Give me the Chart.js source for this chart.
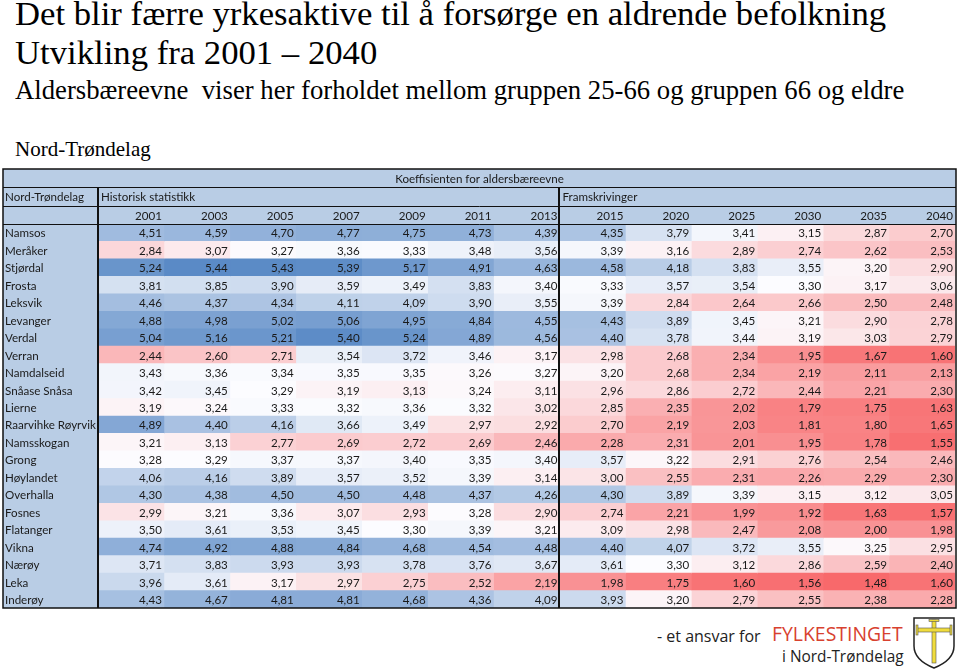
<!DOCTYPE html>
<html>
<head>
<meta charset="utf-8">
<script src="https://cdn.jsdelivr.net/npm/chart.js@4"></script>
<style>
body { margin: 0; width: 960px; height: 670px; background: #fff; position: relative; overflow: hidden; }
.t { position: absolute; left: 15px; white-space: nowrap; line-height: 1; color: #000; font-family: "Liberation Serif", serif; }
#wrap { position: absolute; left: 0; top: 160px; width: 960px; height: 460px; }
.logo { position: absolute; white-space: nowrap; line-height: 1; font-family: "Open Sans", sans-serif; }
</style>
</head>
<body>
<div class="t" style="top:-3px;font-size:34.7px">Det blir færre yrkesaktive til å forsørge en aldrende befolkning</div>
<div class="t" style="top:36px;font-size:34.7px">Utvikling fra 2001 – 2040</div>
<div class="t" style="top:77px;font-size:26.7px">Aldersbæreevne&nbsp; viser her forholdet mellom gruppen 25-66 og gruppen 66 og eldre</div>
<div class="t" style="top:139px;font-size:21px">Nord-Trøndelag</div>

<div id="wrap"><canvas id="chart"></canvas></div>

<div class="logo" style="left:657px;top:628px;font-size:16px;color:#222">- et ansvar for</div>
<div class="logo" style="left:772px;top:624px;font-size:20px;color:#d8412f;transform:scaleX(0.97);transform-origin:0 0">FYLKESTINGET</div>
<div class="logo" style="left:782px;top:649px;font-size:15.4px;color:#222">i Nord-Trøndelag</div>
<svg style="position:absolute;left:0;top:0" width="960" height="670">
  <path d="M914,618 L954,618 L954,646 Q954,660 934,668 Q914,660 914,646 Z" fill="#fff" stroke="#222" stroke-width="1.5"/>
  <g fill="#f0dc3c" stroke="#555" stroke-width="0.6">
    <rect x="932" y="620" width="4" height="43"/>
    <rect x="917" y="628" width="34" height="4"/>
    <rect x="916" y="625" width="2" height="10"/>
    <rect x="950" y="625" width="2" height="10"/>
    <rect x="929" y="619.5" width="10" height="2"/>
  </g>
</svg>

<script>
const years = ["2001", "2003", "2005", "2007", "2009", "2011", "2013",
               "2015", "2020", "2025", "2030", "2035", "2040"];
const kommuner = ["Namsos", "Meråker", "Stjørdal", "Frosta", "Leksvik", "Levanger", "Verdal",
                  "Verran", "Namdalseid", "Snåase Snåsa", "Lierne", "Raarvihke Røyrvik", "Namsskogan",
                  "Grong", "Høylandet", "Overhalla", "Fosnes", "Flatanger", "Vikna", "Nærøy", "Leka", "Inderøy"];

const namsos     = [4.51, 4.59, 4.70, 4.77, 4.75, 4.73, 4.39, 4.35, 3.79, 3.41, 3.15, 2.87, 2.70];
const meraker    = [2.84, 3.07, 3.27, 3.36, 3.33, 3.48, 3.56, 3.39, 3.16, 2.89, 2.74, 2.62, 2.53];
const stjordal   = [5.24, 5.44, 5.43, 5.39, 5.17, 4.91, 4.63, 4.58, 4.18, 3.83, 3.55, 3.20, 2.90];
const frosta     = [3.81, 3.85, 3.90, 3.59, 3.49, 3.83, 3.40, 3.33, 3.57, 3.54, 3.30, 3.17, 3.06];
const leksvik    = [4.46, 4.37, 4.34, 4.11, 4.09, 3.90, 3.55, 3.39, 2.84, 2.64, 2.66, 2.50, 2.48];
const levanger   = [4.88, 4.98, 5.02, 5.06, 4.95, 4.84, 4.55, 4.43, 3.89, 3.45, 3.21, 2.90, 2.78];
const verdal     = [5.04, 5.16, 5.21, 5.40, 5.24, 4.89, 4.56, 4.40, 3.78, 3.44, 3.19, 3.03, 2.79];
const verran     = [2.44, 2.60, 2.71, 3.54, 3.72, 3.46, 3.17, 2.98, 2.68, 2.34, 1.95, 1.67, 1.60];
const namdalseid = [3.43, 3.36, 3.34, 3.35, 3.35, 3.26, 3.27, 3.20, 2.68, 2.34, 2.19, 2.11, 2.13];
const snasa      = [3.42, 3.45, 3.29, 3.19, 3.13, 3.24, 3.11, 2.96, 2.86, 2.72, 2.44, 2.21, 2.30];
const lierne     = [3.19, 3.24, 3.33, 3.32, 3.36, 3.32, 3.02, 2.85, 2.35, 2.02, 1.79, 1.75, 1.63];
const royrvik    = [4.89, 4.40, 4.16, 3.66, 3.49, 2.97, 2.92, 2.70, 2.19, 2.03, 1.81, 1.80, 1.65];
const namsskogan = [3.21, 3.13, 2.77, 2.69, 2.72, 2.69, 2.46, 2.28, 2.31, 2.01, 1.95, 1.78, 1.55];
const grong      = [3.28, 3.29, 3.37, 3.37, 3.40, 3.35, 3.40, 3.57, 3.22, 2.91, 2.76, 2.54, 2.46];
const hoylandet  = [4.06, 4.16, 3.89, 3.57, 3.52, 3.39, 3.14, 3.00, 2.55, 2.31, 2.26, 2.29, 2.30];
const overhalla  = [4.30, 4.38, 4.50, 4.50, 4.48, 4.37, 4.26, 4.30, 3.89, 3.39, 3.15, 3.12, 3.05];
const fosnes     = [2.99, 3.21, 3.36, 3.07, 2.93, 3.28, 2.90, 2.74, 2.21, 1.99, 1.92, 1.63, 1.57];
const flatanger  = [3.50, 3.61, 3.53, 3.45, 3.30, 3.39, 3.21, 3.09, 2.98, 2.47, 2.08, 2.00, 1.98];
const vikna      = [4.74, 4.92, 4.88, 4.84, 4.68, 4.54, 4.48, 4.40, 4.07, 3.72, 3.55, 3.25, 2.95];
const naroy      = [3.71, 3.83, 3.93, 3.93, 3.78, 3.76, 3.67, 3.61, 3.30, 3.12, 2.86, 2.59, 2.40];
const leka       = [3.96, 3.61, 3.17, 2.97, 2.75, 2.52, 2.19, 1.98, 1.75, 1.60, 1.56, 1.48, 1.60];
const inderoy    = [4.43, 4.67, 4.81, 4.81, 4.68, 4.36, 4.09, 3.93, 3.20, 2.79, 2.55, 2.38, 2.28];

const rows = [namsos, meraker, stjordal, frosta, leksvik, levanger, verdal, verran, namdalseid,
              snasa, lierne, royrvik, namsskogan, grong, hoylandet, overhalla, fosnes, flatanger,
              vikna, naroy, leka, inderoy];

// excel style 3-colour scale: min red, median white, max blue
const all = rows.flat().slice().sort((a, b) => a - b);
const vMin = all[0], vMax = all[all.length - 1];
const vMid = (all[Math.floor((all.length - 1) / 2)] + all[Math.ceil((all.length - 1) / 2)]) / 2;
const red = [248, 105, 107], white = [252, 252, 255], blue = [90, 138, 198];

function mix(a, b, t) {
    return 'rgb(' + a.map((v, i) => Math.round(v + (b[i] - v) * t)).join(',') + ')';
}
function cellColour(v) {
    if (v <= vMid) return mix(red, white, (v - vMin) / (vMid - vMin));
    return mix(white, blue, (v - vMid) / (vMax - vMid));
}

const headBg = '#b9cde5';
const font = '11.6px Lato';

const tablePlugin = {
    id: 'table',
    afterDatasetsDraw(chart) {
        const {ctx, chartArea: a, scales: {x, y}} = chart;
        const top = a.top - 55, left = 3, right = a.right + 1;
        const r1 = top + 18, r2 = r1 + 19;
        const split = x.getPixelForValue(7);
        ctx.save();
        ctx.fillStyle = headBg;
        ctx.fillRect(left, top, right - left, a.top - top);
        ctx.fillRect(left, a.top, a.left - left, a.bottom - a.top);

        ctx.fillStyle = '#1a1a1a';
        ctx.font = font;
        ctx.textBaseline = 'middle';
        ctx.textAlign = 'center';
        ctx.fillText('Koeffisienten for aldersbæreevne', (left + right) / 2, (top + r1) / 2 + 1);
        ctx.textAlign = 'left';
        ctx.fillText('Nord-Trøndelag', 5, (r1 + r2) / 2 + 1);
        ctx.fillText('Historisk statistikk', a.left + 3, (r1 + r2) / 2 + 1);
        ctx.fillText('Framskrivinger', split + 3, (r1 + r2) / 2 + 1);
        ctx.textAlign = 'right';
        years.forEach((yr, c) => ctx.fillText(yr, x.getPixelForValue(c + 1) - 2, (r2 + a.top) / 2 + 1));

        ctx.textAlign = 'left';
        kommuner.forEach((k, i) => ctx.fillText(k, 5, y.getPixelForValue(i) + 1));

        ctx.textAlign = 'right';
        chart.data.datasets.forEach((ds, c) => {
            chart.getDatasetMeta(c).data.forEach((el, i) => {
                const v = rows[i][c];
                ctx.fillText(v.toFixed(2).replace('.', ','), x.getPixelForValue(c + 1) - 2, el.y + 1);
            });
        });

        ctx.strokeStyle = '#111';
        ctx.lineWidth = 1;
        [r1, r2, a.top].forEach(yy => {
            ctx.beginPath();
            ctx.moveTo(left, Math.round(yy) + 0.5);
            ctx.lineTo(right, Math.round(yy) + 0.5);
            ctx.stroke();
        });
        ctx.lineWidth = 2;
        [a.left, split].forEach(xx => {
            ctx.beginPath();
            ctx.moveTo(Math.round(xx), r1);
            ctx.lineTo(Math.round(xx), a.bottom);
            ctx.stroke();
        });
        ctx.lineWidth = 1.5;
        ctx.strokeRect(left, top, right - left, a.bottom - top);
        ctx.restore();
    }
};

new Chart(document.getElementById('chart'), {
    type: 'bar',
    data: {
        labels: kommuner,
        datasets: years.map((yr, c) => ({
            label: yr,
            data: kommuner.map(() => [c, c + 1]),
            backgroundColor: ctx => cellColour(rows[ctx.dataIndex][c]),
            borderWidth: 0,
            barPercentage: 1,
            categoryPercentage: 1,
            grouped: false
        }))
    },
    options: {
        indexAxis: 'y',
        responsive: true,
        maintainAspectRatio: false,
        animation: false,
        layout: { padding: { left: 98, right: 5, top: 64, bottom: 12 } },
        scales: {
            x: { type: 'linear', min: 0, max: 13, display: false },
            y: { type: 'category', display: false }
        },
        plugins: { legend: { display: false }, tooltip: { enabled: false } }
    },
    plugins: [tablePlugin]
});
</script>
</body>
</html>
